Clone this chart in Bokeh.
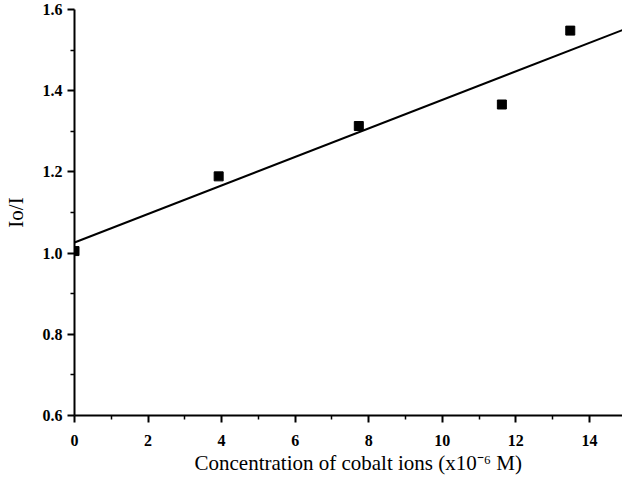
from bokeh.plotting import figure
from bokeh.models import Range1d, FixedTicker, Title
from bokeh.embed import file_html
from bokeh.resources import INLINE

# data
conc = [0.0, 3.92, 7.73, 11.62, 13.48]
ratio = [1.005, 1.189, 1.313, 1.366, 1.548]
fit_x = [0.0, 15.0]
fit_y = [1.026, 1.553]
x_ticks = [0, 2, 4, 6, 8, 10, 12, 14]
y_ticks = [0.6, 0.8, 1.0, 1.2, 1.4, 1.6]
x_title = "Concentration of cobalt ions (x10\u207b\u2076 M)"
y_title = "Io/I"

FONT = "Liberation Serif"

p = figure(width=622, height=476, output_backend="svg", toolbar_location=None,
           x_range=Range1d(0, 14.9), y_range=Range1d(0.6, 1.6),
           min_border_left=67, min_border_right=0, min_border_top=9,
           min_border_bottom=61)
p.outline_line_color = None
p.grid.grid_line_color = None

p.line(fit_x, fit_y, line_color="black", line_width=2)
p.scatter(conc, ratio, marker="square", size=9, color="black")

for ax in (p.xaxis[0], p.yaxis[0]):
    ax.axis_line_width = 2
    ax.axis_line_color = "black"
    ax.major_tick_line_width = 2
    ax.minor_tick_line_width = 1.5
    ax.major_tick_in = 0
    ax.minor_tick_in = 0
    ax.major_tick_out = 7
    ax.minor_tick_out = 4
    ax.major_label_text_font = FONT
    ax.major_label_text_font_size = "16px"
    ax.major_label_text_font_style = "bold"
    ax.major_label_text_color = "black"

p.xaxis.ticker = FixedTicker(ticks=x_ticks, minor_ticks=[v + 1 for v in x_ticks])
p.yaxis.ticker = FixedTicker(ticks=y_ticks, minor_ticks=[round(v + 0.1, 2) for v in y_ticks[:-1]])
p.xaxis.major_label_overrides = {v: str(v) for v in x_ticks}
p.yaxis.major_label_overrides = {v: f"{v:.1f}" for v in y_ticks}
p.xaxis.major_label_standoff = 12
p.yaxis.major_label_standoff = 5

p.yaxis.axis_label = y_title
p.yaxis.axis_label_text_font = FONT
p.yaxis.axis_label_text_font_size = "21px"
p.yaxis.axis_label_text_font_style = "normal"
p.yaxis.axis_label_text_color = "black"
p.yaxis.axis_label_standoff = 12

t = Title(text=x_title, align="left", offset=120, text_font=FONT,
          text_font_size="21px", text_font_style="normal", text_color="black",
          standoff=0)
p.add_layout(t, "below")

open("out.html", "w").write(file_html(p, INLINE))
